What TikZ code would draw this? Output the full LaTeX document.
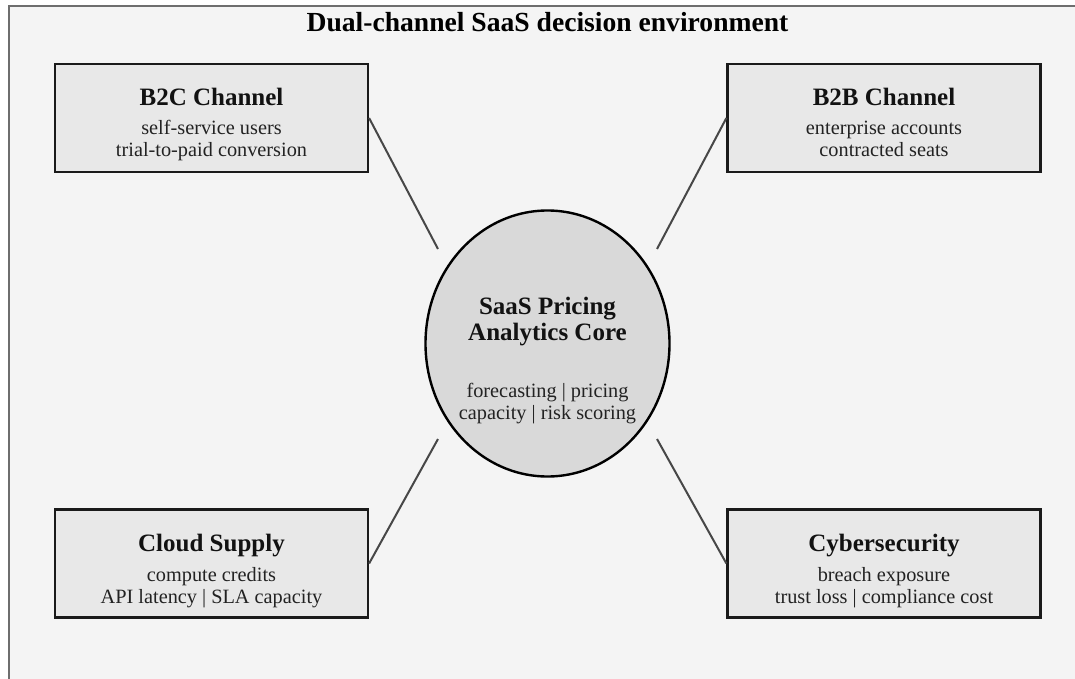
\documentclass[tikz,border=0pt]{standalone}
\usepackage{fontspec}
\setmainfont{Liberation Serif}
\usetikzlibrary{shapes.geometric}
\definecolor{framefill}{HTML}{F4F4F4}
\definecolor{framedraw}{HTML}{6E6E6E}
\definecolor{boxfill}{HTML}{E8E8E8}
\definecolor{boxdraw}{HTML}{1A1A1A}
\definecolor{corefill}{HTML}{D9D9D9}
\definecolor{linkcol}{HTML}{474747}
\definecolor{bodytext}{HTML}{222222}
\tikzset{
  frame/.style={draw=framedraw, fill=framefill, line width=2pt},
  chanbox/.style={rectangle, draw=boxdraw, fill=boxfill, line width=2.2pt, minimum width=313pt, minimum height=108pt, inner sep=0pt},
  corenode/.style={ellipse, draw=black, fill=corefill, line width=2.4pt, minimum width=244pt, minimum height=266pt, inner sep=0pt},
  link/.style={draw=linkcol, line width=2pt},
  titletext/.style={anchor=base, inner sep=0pt, font=\fontsize{27.6}{30}\selectfont\bfseries, text=black},
  headtext/.style={anchor=base, inner sep=0pt, font=\fontsize{25}{26}\selectfont\bfseries, text=black!93},
  bodytxt/.style={anchor=base, inner sep=0pt, font=\fontsize{20.3}{22}\selectfont, text=bodytext}
}
\begin{document}
\begin{tikzpicture}[x=1pt,y=-1pt]
\useasboundingbox (0,0) rectangle (1075,679);
\fill[white] (0,0) rectangle (1075,679);
\draw[frame] (9,6) rectangle (1090,700);
\node[titletext] (title) at (547.5,32) {Dual-channel SaaS decision environment};

% channel boxes
\node[chanbox] (b2c) at (211.5,118) {};
\node[chanbox] (b2b) at (884,118) {};
\node[chanbox] (cloud) at (211.5,563.5) {};
\node[chanbox] (cyber) at (884,563.5) {};

\node[headtext] (b2ch) at (211.5,106) {B2C Channel};
\node[bodytxt] (b2c1) at (211.5,135) {self-service users};
\node[bodytxt] (b2c2) at (211.5,157) {trial-to-paid conversion};

\node[headtext] (b2bh) at (884,106) {B2B Channel};
\node[bodytxt] (b2b1) at (884,135) {enterprise accounts};
\node[bodytxt] (b2b2) at (884,157) {contracted seats};

\node[headtext] (cloudh) at (211.5,551) {Cloud Supply};
\node[bodytxt] (cloud1) at (211.5,581) {compute credits};
\node[bodytxt] (cloud2) at (211.5,603) {API latency | SLA capacity};

\node[headtext] (cyberh) at (884,551) {Cybersecurity};
\node[bodytxt] (cyber1) at (884,581) {breach exposure};
\node[bodytxt] (cyber2) at (884,603) {trust loss | compliance cost};

% core
\node[corenode] (core) at (547.5,343.5) {};
\node[headtext] (core1) at (547.5,314) {SaaS Pricing};
\node[headtext] (core2) at (547.5,340) {Analytics Core};
\node[bodytxt] (core3) at (547.5,397) {forecasting | pricing};
\node[bodytxt] (core4) at (547.5,419) {capacity | risk scoring};

% connector ends
\coordinate (enw) at (438,249);
\coordinate (ene) at (657,249);
\coordinate (esw) at (438,439);
\coordinate (ese) at (657,439);

\draw[link] (b2c.east) -- (enw);
\draw[link] (b2b.west) -- (ene);
\draw[link] (cloud.east) -- (esw);
\draw[link] (cyber.west) -- (ese);
\end{tikzpicture}
\end{document}
